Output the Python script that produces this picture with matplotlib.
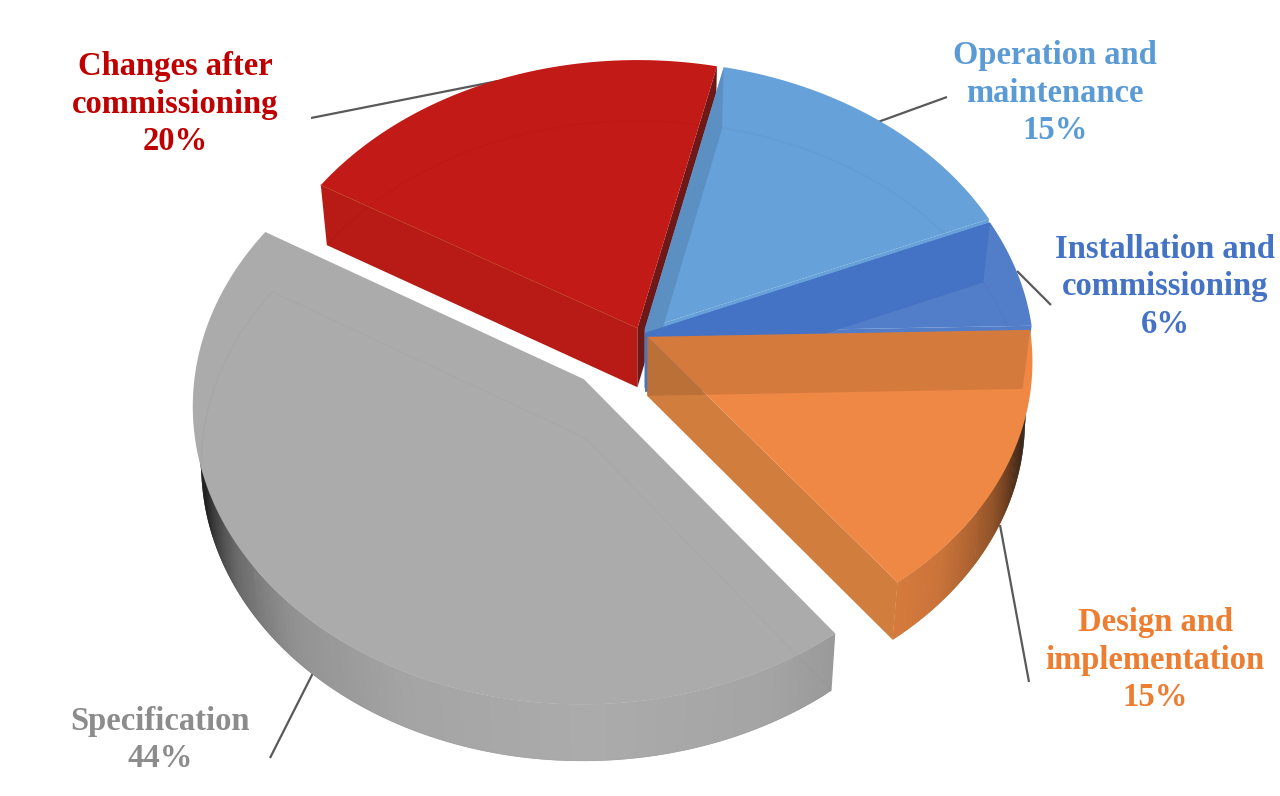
import numpy as np, matplotlib
matplotlib.use('Agg')
import matplotlib.pyplot as plt
from matplotlib.patches import Polygon

categories = ['Operation and\nmaintenance', 'Installation and\ncommissioning',
              'Design and\nimplementation', 'Specification', 'Changes after\ncommissioning']
values = [15, 6, 15, 44, 20]
top_colors = ['#67A1D9', '#527DC9', '#EE8844', '#ABABAB', '#C21A17']
label_colors = ['#5B9BD5', '#4472C4', '#ED7D31', '#8C8C8C', '#C00000']
label_xy = [(1055, 93), (1165, 287), (1155, 660), (160, 740), (175, 104)]
leaders = [((947, 97), (878, 122)), ((1051, 305), (1017, 271)), ((1029, 682), (1000, 525)),
           ((270, 758), (313, 673)), ((311, 118), (498, 81))]
# in-plane explosion and relative radius of each slice
explode = [(-0.0014, 0.0124), (0, 0), (0.0047, -0.0140), (-0.1610, -0.1548), (-0.0203, 0.0162)]
radius = [1, 1, 0.99, 1, 1]
# homography of the pie's top plane to the picture, and the pie's rotation
PROJ = np.array([[384.825, 44.4154, 645.399], [-5.67983, -263.453, 332.756], [-0.00158788, 0.0819943, 1.0]])
ROT = 1.32583
NADIR_X, X_SHRINK = 637.0, 0.981


def project(x, y):
    w = PROJ @ np.vstack([x, y, np.ones_like(x)])
    return np.column_stack([w[0] / w[2], w[1] / w[2]])


def drop(p):
    p = np.atleast_2d(p)
    return np.column_stack([NADIR_X + X_SHRINK * (p[:, 0] - NADIR_X), p[:, 1] + 60 - (p[:, 1] - 185) * 0.0065])


def shade(psi):
    return np.interp(abs(psi), [0, 25, 45, 60, 75, 90], [1, .96, .85, .62, .2, .1])


def darker(col, f):
    return tuple(np.array(matplotlib.colors.to_rgb(col)) * f)


fig = plt.figure(figsize=(12.8, 7.96), dpi=100)
ax = fig.add_axes([0, 0, 1, 1])
ax.set_xlim(0, 1280)
ax.set_ylim(796, 0)
ax.axis('off')

edges = np.cumsum([0] + values) * 3.6


def poly(pts, color, alpha=1, z=1):
    ax.add_patch(Polygon(pts, closed=True, fc=color, ec='none', alpha=alpha, zorder=z))


def geometry(i):
    th = ROT - np.radians(np.linspace(edges[i], edges[i + 1], 160))
    ox, oy = explode[i]
    arc = project(ox + radius[i] * np.cos(th), oy + radius[i] * np.sin(th))
    apex = project(np.array([ox]), np.array([oy]))
    return th, arc, apex


def draw_slice(i, z):
    th, arc, apex = geometry(i)
    col = top_colors[i]
    bot = drop(arc)
    apb = drop(apex)
    s_wall = np.vstack([apex, apb, bot[0], arc[0]])
    e_wall = np.vstack([apex, apb, bot[-1], arc[-1]])
    # rounded outer wall, each strip overpainting the seam of the one before
    if i in (2, 3):
        psis = np.degrees(th) + 90
        tuck = arc + (np.abs(psis) > 55)[:, None] * 0.012 * (apex - arc)
        order = np.argsort(np.abs(psis))[::-1]
        for k in order:
            j = min(k + 2, len(th) - 1)
            if abs(psis[k]) > 84 or j == k:
                continue
            poly([tuck[k], tuck[j], bot[j], bot[k]], darker(col, shade(0.5 * (psis[k] + psis[j]))), z=z)
    # cut faces beneath the top
    if i == 2:
        poly(e_wall, '#D07D3E', z=z + 0.1)
    elif i == 4:
        poly(s_wall, '#B81A15', z=z + 0.1)
        poly(e_wall, '#6E1818', z=z + 0.1)
    elif i == 0:
        poly(s_wall, col, z=z + 0.1)
        poly(e_wall, col, z=z + 0.1)
    elif i == 1:
        poly(e_wall, col, z=z + 0.1)
    poly(np.vstack([apex, arc]), col, z=z + 0.2)
    # translucent faces showing through the top
    if i == 0:
        poly(s_wall, 'black', alpha=0.1, z=z + 0.3)
    elif i == 1:
        poly(s_wall, '#4472C4', z=z + 0.3)
    elif i == 2:
        poly(s_wall, 'black', alpha=0.1, z=z + 0.3)
    # faint edges of the underside
    if i != 2:
        ax.plot(bot[:, 0], bot[:, 1], color='black', alpha=0.02, lw=1.2, zorder=z + 0.4)
        ax.plot(*np.vstack([bot[0], apb, bot[-1]]).T, color='black', alpha=0.012, lw=1.2, zorder=z + 0.4)
    if i == 4:
        ax.plot(*np.vstack([arc[0], apex[0]]).T, color='#B8380F', alpha=0.5, lw=0.8, zorder=z + 0.4)


draw_slice(4, 2)
draw_slice(0, 3)
draw_slice(1, 4)
draw_slice(2, 5)
draw_slice(3, 6)

for (a, b) in leaders:
    ax.plot([a[0], b[0]], [a[1], b[1]], color='#595959', lw=1.6, zorder=1, solid_capstyle='butt')

for name, v, col, (x, y) in zip(categories, values, label_colors, label_xy):
    ax.text(x, y, f'{name}\n{v}%', color=col, ha='center', va='center', multialignment='center',
            family='Liberation Serif', fontweight='bold', fontsize=23.5, linespacing=1.26, zorder=8)

fig.savefig('out.png', dpi=100)
